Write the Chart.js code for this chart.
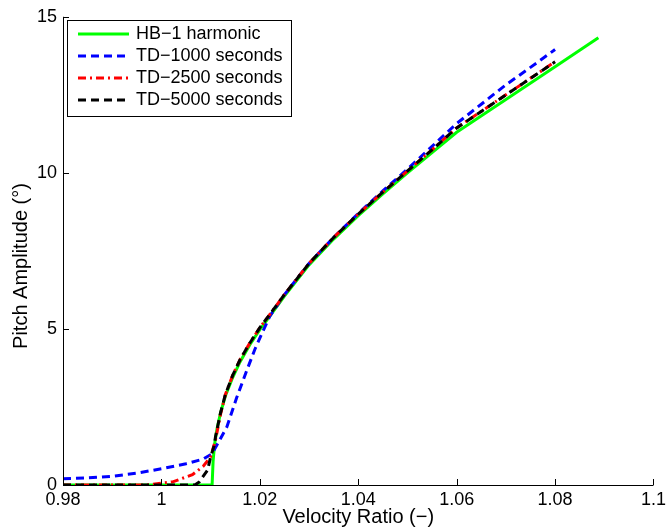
<!DOCTYPE html>
<html lang="en">
  <head>
    <meta charset="utf-8">
    <title>Pitch amplitude vs velocity ratio</title>
    <script src="https://cdn.jsdelivr.net/npm/chart.js"></script>
    <style>
      html, body {
        margin: 0;
        padding: 0;
        background: #fff;
      }
      #wrap {
        width: 670px;
        height: 529px;
      }
    </style>
  </head>
  <body>
    <div id="wrap"><canvas id="chart" width="670" height="529"></canvas></div>

    <script>
      // Data
      const xTicks = [0.98, 1, 1.02, 1.04, 1.06, 1.08, 1.1];
      const yTicks = [0, 5, 10, 15];

      const hbX = [0.98, 1.0103, 1.0105, 1.0108, 1.0113, 1.012, 1.013, 1.0145, 1.016, 1.018, 1.02, 1.022, 1.025, 1.03, 1.035, 1.04, 1.045, 1.05, 1.055, 1.06, 1.07, 1.08, 1.0888];
      const hbY = [0, 0, 0.75, 1.3, 1.8, 2.3, 2.85, 3.45, 3.95, 4.5, 4.98, 5.4, 6.05, 7.05, 7.88, 8.63, 9.33, 10.0, 10.65, 11.3, 12.35, 13.4, 14.33];

      const td1000X = [0.98, 0.985, 0.99, 0.995, 1.0, 1.005, 1.0085, 1.0103, 1.0133, 1.0153, 1.0173, 1.019, 1.0205, 1.022, 1.025, 1.03, 1.035, 1.04, 1.045, 1.05, 1.055, 1.06, 1.065, 1.07, 1.075, 1.08];
      const td1000Y = [0.2, 0.23, 0.28, 0.38, 0.52, 0.68, 0.83, 1.0, 1.86, 2.8, 3.65, 4.35, 4.88, 5.4, 6.1, 7.1, 7.93, 8.7, 9.42, 10.12, 10.85, 11.58, 12.2, 12.82, 13.38, 13.95];

      const td2500X = [0.98, 0.997, 1.0023, 1.0063, 1.0085, 1.01, 1.011, 1.012, 1.013, 1.0145, 1.016, 1.018, 1.02, 1.022, 1.025, 1.03, 1.035, 1.04, 1.045, 1.05, 1.055, 1.06, 1.07, 1.08];
      const td2500Y = [0, 0, 0.1, 0.33, 0.6, 0.9, 1.45, 2.25, 2.9, 3.52, 4.02, 4.56, 5.04, 5.46, 6.1, 7.1, 7.93, 8.68, 9.38, 10.06, 10.74, 11.44, 12.5, 13.56];

      const td5000X = [0.98, 1.0068, 1.0077, 1.0094, 1.01, 1.0107, 1.011, 1.012, 1.013, 1.0145, 1.016, 1.018, 1.02, 1.022, 1.025, 1.03, 1.035, 1.04, 1.045, 1.05, 1.055, 1.06, 1.07, 1.08];
      const td5000Y = [0, 0, 0.1, 0.48, 0.9, 1.25, 1.55, 2.3, 2.9, 3.52, 4.02, 4.56, 5.04, 5.46, 6.1, 7.1, 7.93, 8.68, 9.38, 10.06, 10.74, 11.44, 12.5, 13.56];

      const FONT = "'Liberation Sans', Arial, sans-serif";
      const FONT_SIZE = 18;
      const TITLE_SIZE = 20;

      let points = (xs, ys) => xs.map((x, i) => ({x, y: ys[i]}));
      let series = (label, xs, ys, color, width, dash, order) => ({
        label,
        data: points(xs, ys),
        borderColor: color,
        backgroundColor: color,
        borderWidth: width,
        borderDash: dash,
        pointRadius: 0,
        tension: 0,
        order
      });

      // inward ticks, left/bottom axis lines and the y label
      const axesPlugin = {
        id: "axes",
        afterDraw(chart) {
          let {ctx, chartArea: a, scales: {x, y}} = chart;
          ctx.save();
          ctx.strokeStyle = "#000";
          ctx.lineWidth = 1;
          ctx.beginPath();
          ctx.moveTo(a.left + 0.5, a.top);
          ctx.lineTo(a.left + 0.5, a.bottom + 0.5);
          ctx.lineTo(a.right, a.bottom + 0.5);
          for (let t of x.ticks) {
            let px = Math.round(x.getPixelForValue(t.value)) + 0.5;
            ctx.moveTo(px, a.bottom);
            ctx.lineTo(px, a.bottom - 6);
          }
          for (let t of y.ticks) {
            let py = Math.round(y.getPixelForValue(t.value)) + 0.5;
            ctx.moveTo(a.left, py);
            ctx.lineTo(a.left + 6, py);
          }
          ctx.stroke();

          ctx.translate(21, 266);
          ctx.rotate(-Math.PI / 2);
          ctx.fillStyle = "#000";
          ctx.font = `${TITLE_SIZE}px ${FONT}`;
          ctx.textAlign = "center";
          ctx.textBaseline = "middle";
          ctx.fillText("Pitch Amplitude (\u00b0)", 0, 0);
          ctx.restore();
        }
      };

      // boxed legend in the top left corner of the plot
      const legendPlugin = {
        id: "boxLegend",
        afterDatasetsDraw(chart) {
          let ctx = chart.ctx;
          let left = 67.5, top = 20.5, w = 224, h = 96;
          ctx.save();
          ctx.fillStyle = "#fff";
          ctx.fillRect(left, top, w, h);
          ctx.strokeStyle = "#000";
          ctx.lineWidth = 1;
          ctx.setLineDash([]);
          ctx.strokeRect(left, top, w, h);
          ctx.font = `${FONT_SIZE}px ${FONT}`;
          ctx.textBaseline = "middle";
          chart.data.datasets.forEach((ds, i) => {
            let rowY = 34 + i * 22;
            ctx.beginPath();
            ctx.strokeStyle = ds.borderColor;
            ctx.lineWidth = ds.borderWidth;
            ctx.setLineDash(ds.borderDash || []);
            ctx.moveTo(78, rowY);
            ctx.lineTo(129, rowY);
            ctx.stroke();
            ctx.setLineDash([]);
            ctx.fillStyle = "#000";
            ctx.fillText(ds.label, 136, rowY);
          });
          ctx.restore();
        }
      };

      new Chart(document.getElementById("chart").getContext("2d"), {
        type: "line",
        data: {
          datasets: [
            series("HB\u22121 harmonic", hbX, hbY, "#00ff00", 3, [], 4),
            series("TD\u22121000 seconds", td1000X, td1000Y, "#0000ff", 3, [8, 5], 3),
            series("TD\u22122500 seconds", td2500X, td2500Y, "#ff0000", 3, [8, 4, 2, 4], 2),
            series("TD\u22125000 seconds", td5000X, td5000Y, "#000000", 3, [8, 5], 1),
          ]
        },
        options: {
          responsive: false,
          animation: false,
          layout: { padding: { left: 0, right: 13, top: 15, bottom: 0 } },
          plugins: { legend: { display: false }, tooltip: { enabled: false } },
          scales: {
            x: {
              type: "linear",
              min: 0.98,
              max: 1.1,
              afterBuildTicks: scale => { scale.ticks = xTicks.map(value => ({value})); },
              afterFit: scale => { scale.height = 44; },
              grid: { display: false, drawTicks: false },
              border: { display: false },
              ticks: {
                padding: 4,
                color: "#000",
                font: { family: FONT, size: FONT_SIZE },
                maxRotation: 0,
                callback: v => String(+v.toFixed(2))
              },
              title: {
                display: true,
                text: "Velocity Ratio (\u2212)",
                color: "#000",
                font: { family: FONT, size: TITLE_SIZE },
                padding: { top: 0, bottom: 0 }
              }
            },
            y: {
              type: "linear",
              min: 0,
              max: 15,
              afterBuildTicks: scale => { scale.ticks = yTicks.map(value => ({value})); },
              afterFit: scale => { scale.width = 63; },
              grid: { display: false, drawTicks: false },
              border: { display: false },
              ticks: {
                padding: 6,
                color: "#000",
                font: { family: FONT, size: FONT_SIZE },
                callback: v => String(v)
              }
            }
          }
        },
        plugins: [axesPlugin, legendPlugin]
      });
    </script>
  </body>
</html>
